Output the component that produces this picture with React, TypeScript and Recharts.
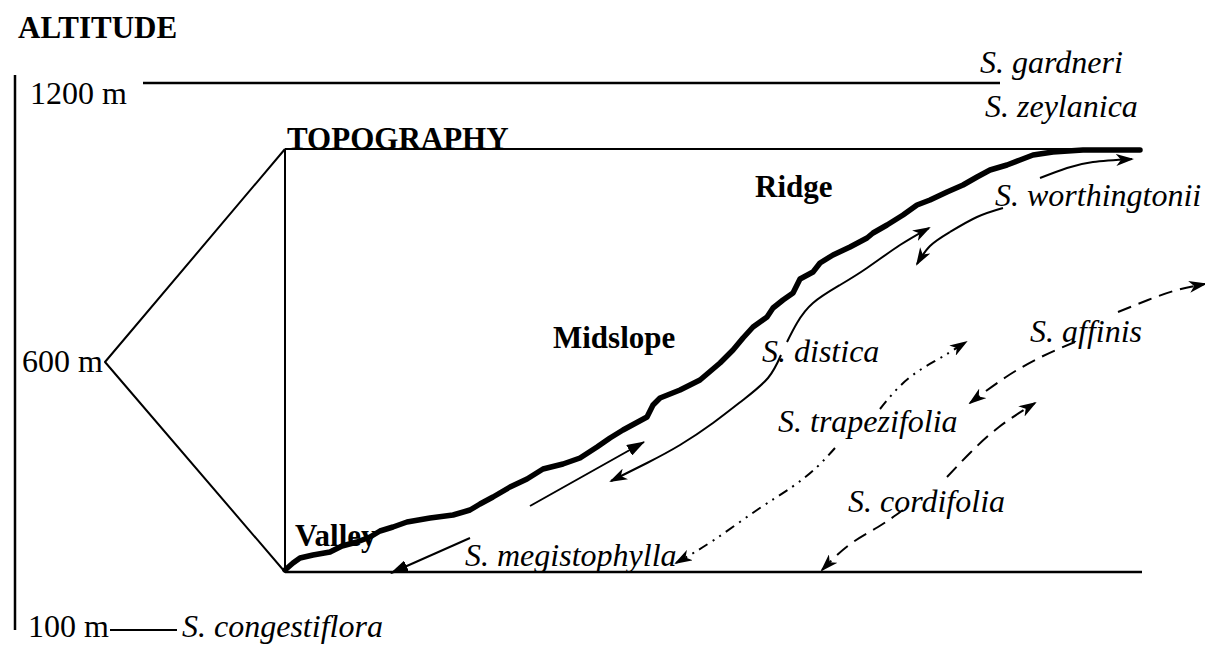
import { LineChart, Line, XAxis, YAxis, ReferenceDot } from "recharts";

type Pt = [number, number];

// diagram is laid out on a 1205 x 645 grid (x right, y down)
const axisLine: Pt[] = [[15, 75], [15, 630]];
const line1200: Pt[] = [[143, 83], [1000, 83]];
const line100: Pt[] = [[110, 630], [177, 630]];
const topLine: Pt[] = [[285, 149], [1140, 149]];
const bottomLine: Pt[] = [[285, 572], [1142, 572]];
const valleyWall: Pt[] = [[285, 149], [285, 572]];
const bracket: Pt[] = [[285, 149], [105, 362], [285, 572]];

const profile: Pt[] = [
  [285, 570], [293, 563], [300, 558], [313, 555], [330, 552], [342, 546],
  [357, 542], [370, 537], [380, 531], [393, 527], [407, 522], [430, 518],
  [453, 515], [470, 510], [480, 504], [493, 497], [510, 487], [527, 479],
  [543, 469], [563, 464], [580, 458], [597, 447], [610, 438], [623, 430],
  [647, 417], [653, 405], [660, 398], [680, 390], [700, 380], [720, 363],
  [733, 350], [743, 338], [753, 327], [767, 317], [773, 308], [783, 300],
  [793, 293], [800, 279], [813, 272], [820, 263], [833, 255], [850, 247],
  [867, 238], [873, 233], [887, 225], [903, 215], [917, 205], [930, 200],
  [947, 192], [963, 185], [977, 177], [990, 170], [1007, 165], [1020, 160],
  [1033, 155], [1053, 152], [1083, 150], [1140, 150],
];

const worthUp: Pt[] = [[1040, 178], [1067, 168], [1093, 162], [1132, 159]];
const worthDown: Pt[] = [[1003, 208], [977, 217], [950, 232], [930, 246], [917, 264]];
const disticaUp: Pt[] = [[787, 342], [797, 323], [813, 303], [840, 285], [867, 268], [900, 245], [929, 228]];
const disticaDown: Pt[] = [[781, 355], [768, 378], [743, 400], [713, 423], [680, 445], [647, 463], [611, 481]];
const megisUp: Pt[] = [[530, 506], [644, 442]];
const megisDown: Pt[] = [[470, 538], [391, 573]];
const trapUp: Pt[] = [[880, 409], [899, 387], [920, 370], [942, 357], [966, 342]];
const trapDown: Pt[] = [[835, 448], [817, 467], [792, 487], [757, 510], [714, 540], [676, 563]];
const affinisUp: Pt[] = [[1118, 312], [1148, 300], [1177, 290], [1205, 284]];
const affinisDown: Pt[] = [[1075, 342], [1041, 357], [1006, 377], [970, 403]];
const cordUp: Pt[] = [[947, 477], [970, 453], [999, 427], [1035, 403]];
const cordDown: Pt[] = [[903, 510], [878, 527], [849, 545], [822, 570]];

const boldLabels: { text: string; at: Pt }[] = [
  { text: "ALTITUDE", at: [18, 38] },
  { text: "TOPOGRAPHY", at: [287, 149] },
  { text: "Ridge", at: [755, 197] },
  { text: "Midslope", at: [553, 348] },
  { text: "Valley", at: [295, 546] },
];

const plainLabels: { text: string; at: Pt }[] = [
  { text: "1200 m", at: [30, 104] },
  { text: "600 m", at: [22, 372] },
  { text: "100 m", at: [28, 637] },
];

const speciesLabels: { text: string; at: Pt }[] = [
  { text: "S. gardneri", at: [980, 73] },
  { text: "S. zeylanica", at: [985, 117] },
  { text: "S. worthingtonii", at: [995, 206] },
  { text: "S. distica", at: [762, 362] },
  { text: "S. affinis", at: [1030, 342] },
  { text: "S. trapezifolia", at: [778, 432] },
  { text: "S. cordifolia", at: [848, 512] },
  { text: "S. megistophylla", at: [465, 566] },
  { text: "S. congestiflora", at: [182, 637] },
];

const FONT = "'Liberation Serif', 'Times New Roman', serif";

const toRows = (pts: Pt[]) => pts.map(([x, y]) => ({ x, y }));

function seg(key: string, pts: Pt[], opts: Record<string, any> = {}) {
  return (
    <Line
      key={key}
      data={toRows(pts)}
      dataKey="y"
      type={opts.type ?? "linear"}
      stroke="#000"
      strokeWidth={opts.width ?? 2}
      strokeDasharray={opts.dash}
      markerEnd={opts.marker ? `url(#${opts.marker})` : undefined}
      dot={false}
      activeDot={false}
      isAnimationActive={false}
      strokeLinejoin="round"
      strokeLinecap={opts.cap ?? "butt"}
    />
  );
}

function textMark(
  key: string,
  label: { text: string; at: Pt },
  style: { weight?: string; italic?: boolean; size: number }
) {
  return (
    <ReferenceDot
      key={key}
      x={label.at[0]}
      y={label.at[1]}
      r={0}
      ifOverflow="visible"
      shape={(p: any) => (
        <text
          x={p.cx}
          y={p.cy}
          fontFamily={FONT}
          fontSize={style.size}
          fontWeight={style.weight ?? "normal"}
          fontStyle={style.italic ? "italic" : "normal"}
          fill="#000"
        >
          {label.text}
        </text>
      )}
    />
  );
}

export default function App() {
  return (
    <div style={{ position: "absolute", left: 0, top: 0, background: "#fff" }}>
      <LineChart width={1205} height={645} margin={{ top: 0, right: 0, bottom: 0, left: 0 }}>
        <defs>
          <marker id="stealth" viewBox="0 0 18 12" refX="16" refY="6"
            markerWidth="18" markerHeight="12" markerUnits="userSpaceOnUse" orient="auto">
            <path d="M0,0 L18,6 L0,12 L5,6 z" fill="#000" />
          </marker>
          <marker id="tri" viewBox="0 0 18 12" refX="17" refY="6"
            markerWidth="18" markerHeight="12" markerUnits="userSpaceOnUse" orient="auto">
            <path d="M0,0 L18,6 L0,12 z" fill="#000" />
          </marker>
        </defs>
        <XAxis type="number" dataKey="x" domain={[0, 1205]} hide allowDataOverflow />
        <YAxis type="number" domain={[0, 645]} reversed hide allowDataOverflow />

        {seg("axis", axisLine, { width: 2.5 })}
        {seg("l1200", line1200, { width: 2.5 })}
        {seg("l100", line100, { width: 2 })}
        {seg("top", topLine, { width: 2 })}
        {seg("bottom", bottomLine, { width: 2.5 })}
        {seg("wall", valleyWall, { width: 2 })}
        {seg("bracket", bracket, { width: 2 })}
        {seg("profile", profile, { width: 5.5, cap: "round" })}

        {seg("worthUp", worthUp, { type: "natural", marker: "stealth" })}
        {seg("worthDown", worthDown, { type: "natural", marker: "stealth" })}
        {seg("disticaUp", disticaUp, { type: "natural", marker: "stealth" })}
        {seg("disticaDown", disticaDown, { type: "natural", marker: "stealth" })}
        {seg("megisUp", megisUp, { marker: "tri" })}
        {seg("megisDown", megisDown, { marker: "tri" })}
        {seg("trapUp", trapUp, { type: "natural", marker: "stealth", dash: "10 6 2 6 2 6" })}
        {seg("trapDown", trapDown, { type: "natural", marker: "stealth", dash: "10 6 2 6 2 6" })}
        {seg("affinisUp", affinisUp, { type: "natural", marker: "stealth", dash: "14 8" })}
        {seg("affinisDown", affinisDown, { type: "natural", marker: "stealth", dash: "14 8" })}
        {seg("cordUp", cordUp, { type: "natural", marker: "stealth", dash: "14 8" })}
        {seg("cordDown", cordDown, { type: "natural", marker: "stealth", dash: "14 8" })}

        {boldLabels.map((l, i) => textMark(`b${i}`, l, { weight: "bold", size: 31 }))}
        {plainLabels.map((l, i) => textMark(`p${i}`, l, { size: 32 }))}
        {speciesLabels.map((l, i) => textMark(`s${i}`, l, { italic: true, size: 32 }))}
      </LineChart>
    </div>
  );
}
